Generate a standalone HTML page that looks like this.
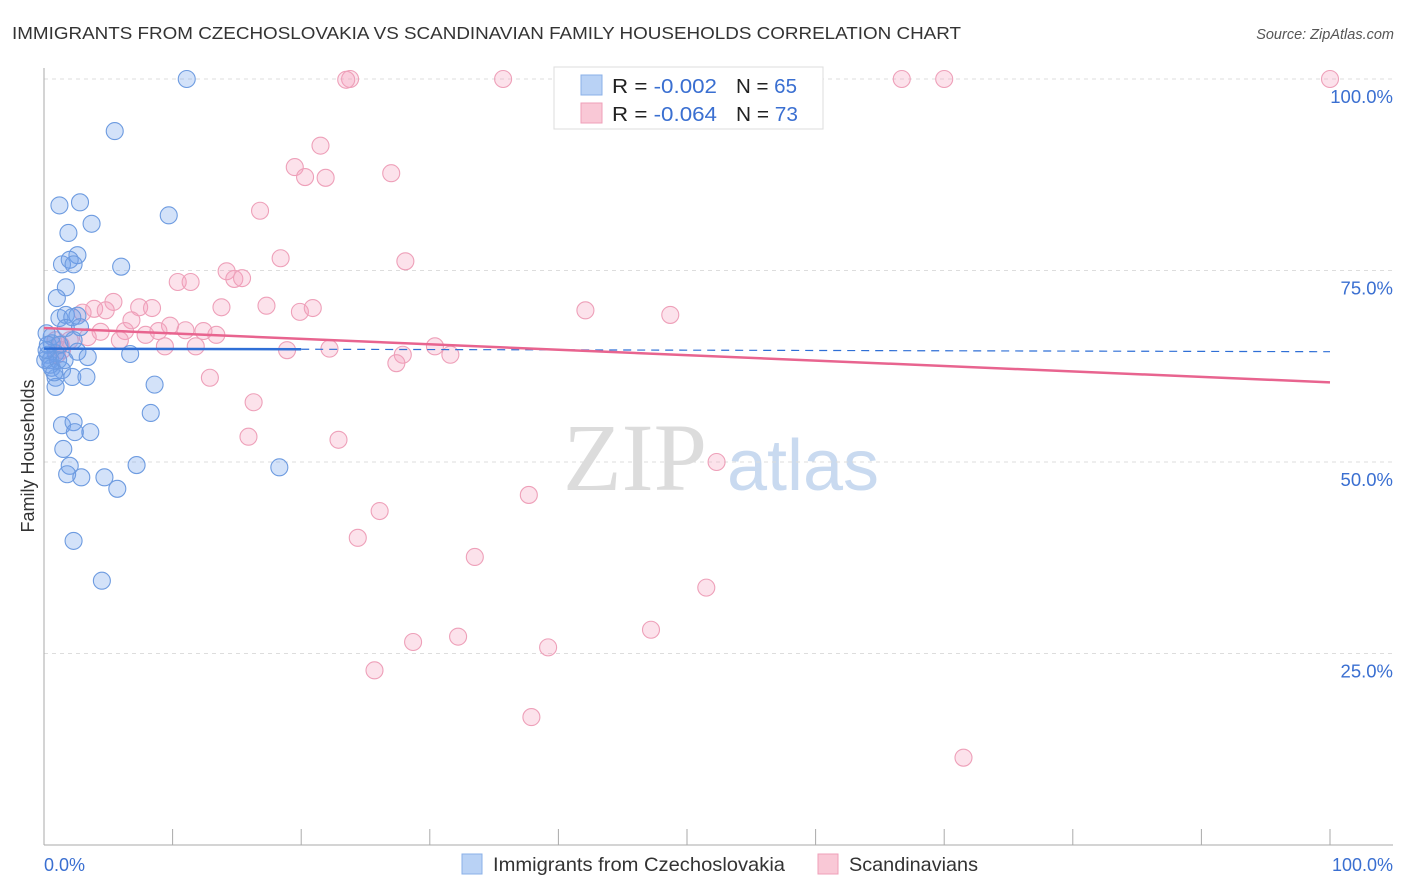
<!DOCTYPE html>
<html><head><meta charset="utf-8"><style>
body{margin:0;background:#fff;font-family:"Liberation Sans",sans-serif;}
#wrap{position:relative;width:1406px;height:892px;overflow:hidden;}
</style></head><body>
<div id="wrap">
<svg id="svg" width="1406" height="892" xmlns="http://www.w3.org/2000/svg">
<text x="12" y="39" font-size="17.5" fill="#333" textLength="949" lengthAdjust="spacingAndGlyphs">IMMIGRANTS FROM CZECHOSLOVAKIA VS SCANDINAVIAN FAMILY HOUSEHOLDS CORRELATION CHART</text>
<text x="1394" y="39" font-size="14.5" fill="#555" font-style="italic" text-anchor="end">Source: ZipAtlas.com</text>
<text x="34" y="456" font-size="18" fill="#333" text-anchor="middle" transform="rotate(-90 34 456)">Family Households</text>
<g><text x="635" y="490" font-size="96" font-family="Liberation Serif,serif" fill="#dcdcdc" text-anchor="middle">ZIP</text><text x="803" y="490" font-size="72" fill="#c9daf0" text-anchor="middle">atlas</text></g>
<g id="grid"></g><g id="marks"></g>
<g>
<rect x="554" y="67" width="269" height="62" fill="#fff" stroke="#ddd"/>
<rect x="581" y="75" width="21" height="20" fill="#b9d2f5" stroke="#8ab0e8"/>
<rect x="581" y="103" width="21" height="20" fill="#f9c8d6" stroke="#ef9fb8"/>
<text x="612" y="93" font-size="20.5" fill="#222" textLength="105" lengthAdjust="spacingAndGlyphs">R = <tspan fill="#3a6fd1">-0.002</tspan></text>
<text x="736" y="93" font-size="20.5" fill="#222" textLength="61" lengthAdjust="spacingAndGlyphs">N = <tspan fill="#3a6fd1">65</tspan></text>
<text x="612" y="121" font-size="20.5" fill="#222" textLength="105" lengthAdjust="spacingAndGlyphs">R = <tspan fill="#3a6fd1">-0.064</tspan></text>
<text x="736" y="121" font-size="20.5" fill="#222" textLength="62" lengthAdjust="spacingAndGlyphs">N = <tspan fill="#3a6fd1">73</tspan></text>
</g>
<g>
<rect x="462" y="854" width="20" height="20" fill="#b9d2f5" stroke="#8ab0e8"/>
<text x="493" y="871" font-size="19.5" fill="#333" textLength="292" lengthAdjust="spacingAndGlyphs">Immigrants from Czechoslovakia</text>
<rect x="818" y="854" width="20" height="20" fill="#f9c8d6" stroke="#ef9fb8"/>
<text x="849" y="871" font-size="19.5" fill="#333" textLength="129" lengthAdjust="spacingAndGlyphs">Scandinavians</text>
</g>
<text x="44" y="871" font-size="18" fill="#3a6fd1">0.0%</text>
<text x="1393" y="871" font-size="18" fill="#3a6fd1" text-anchor="end">100.0%</text>
</svg>
</div>
<script>
const blueX=[11.1,5.5,1.2,2.8,9.7,3.7,1.9,2.6,1.4,2.0,2.3,6.0,1.7,1.0,1.2,1.7,2.6,2.2,0.6,1.7,2.8,2.3,0.6,0.9,2.6,6.7,3.4,0.3,0.5,0.6,1.4,2.2,3.3,0.9,0.9,8.6,8.3,1.4,2.3,3.6,2.4,1.5,2.0,1.8,2.9,7.2,4.7,5.7,18.3,2.3,4.5,0.2,0.3,0.5,1.2,0.1,1.1,0.8,1.6,0.2];
const blueY=[100,93.2,83.5,83.9,82.2,81.1,79.9,77.0,75.8,76.4,75.8,75.5,72.8,71.4,68.8,69.2,69.1,68.9,66.4,67.5,67.6,65.9,65.5,64.2,64.4,64.1,63.7,64.0,63.3,62.3,62.0,61.1,61.1,61.0,59.8,60.1,56.4,54.8,55.2,53.9,53.9,51.7,49.5,48.4,48.0,49.6,48.0,46.5,49.3,39.7,34.5,66.8,65.3,62.7,65.3,63.3,63.3,61.7,63.3,64.6];
const pinkX=[23.8,23.5,35.7,66.7,70.0,100,21.5,19.5,20.3,21.9,27.0,16.8,18.4,28.1,14.2,14.8,15.4,10.4,11.4,5.4,3.9,4.8,7.4,8.4,3.0,13.8,17.3,19.9,20.9,42.1,48.7,6.8,9.8,4.4,6.3,7.9,8.9,11.0,12.4,13.4,3.4,5.9,9.4,11.8,18.9,22.2,27.9,27.4,30.4,31.6,1.3,1.0,12.9,16.3,15.9,22.9,52.3,37.7,26.1,24.4,33.5,51.5,47.2,32.2,28.7,39.2,25.7,37.9,71.5,1.4,2.0,0.9];
const pinkY=[100,99.9,100,100,100,100,91.3,88.5,87.2,87.1,87.7,82.8,76.6,76.2,74.9,73.9,74.0,73.5,73.5,70.9,70.0,69.8,70.2,70.1,69.5,70.2,70.4,69.6,70.1,69.8,69.2,68.5,67.8,67.0,67.1,66.6,67.1,67.2,67.1,66.6,66.3,65.9,65.1,65.1,64.6,64.8,64.0,62.9,65.1,64.0,65.3,64.0,61.0,57.8,53.3,52.9,50.0,45.7,43.6,40.1,37.6,33.6,28.1,27.2,26.5,25.8,22.8,16.7,11.4,64.6,65.9,65.9];
const yTicks=[25,50,75,100];
const xTicks=[0,10,20,30,40,50,60,70,80,90,100];
const blueTrend=[64.8,64.4];
const pinkTrend=[67.5,60.4];
const NS="http://www.w3.org/2000/svg";
const sx=v=>44+v*12.86, sy=v=>845-v*7.66;
function mk(t,a,p){const e=document.createElementNS(NS,t);for(const k in a)e.setAttribute(k,a[k]);p.appendChild(e);return e;}
const grid=document.getElementById('grid'),marks=document.getElementById('marks');
yTicks.forEach(v=>{
  const l=mk('line',{x1:44,x2:1393,y1:sy(v),y2:sy(v),stroke:'#ddd','stroke-dasharray':'4,4'},grid);
  
  
  const t=mk('text',{x:1393,y:sy(v)+24,'font-size':18.5,fill:'#3a6fd1','text-anchor':'end'},grid);
  t.textContent=v.toFixed(1)+'%';
  
  
});
mk('line',{x1:44,x2:44,y1:68,y2:845,stroke:'#aaa'},grid);
mk('line',{x1:44,x2:1393,y1:845,y2:845,stroke:'#aaa'},grid);
xTicks.forEach(v=>{
  const l=mk('line',{x1:sx(v),x2:sx(v),y1:829,y2:845,stroke:'#aaa'},grid);
  
  
});
function dots(X,Y,fill,stroke,name){X.forEach((x,i)=>{
  const c=mk('circle',{cx:sx(x),cy:sy(Y[i]),r:8.5,fill:fill,stroke:stroke,'stroke-width':1.1},marks);
  
  
});}
dots(pinkX,pinkY,'rgba(244,160,188,0.3)','#eea0b9','scandinavian-point');
dots(blueX,blueY,'rgba(110,160,235,0.3)','#6d9be0','czech-point');
const bs=(blueTrend[1]-blueTrend[0])/100;
const b1=mk('line',{x1:sx(0),y1:sy(blueTrend[0]),x2:sx(20),y2:sy(blueTrend[0]+bs*20),stroke:'#2f6fd6','stroke-width':2.5},marks);


const b2=mk('line',{x1:sx(20),y1:sy(blueTrend[0]+bs*20),x2:sx(100),y2:sy(blueTrend[1]),stroke:'#2f6fd6','stroke-width':1.2,'stroke-dasharray':'8,6'},marks);


const p1=mk('line',{x1:sx(0),y1:sy(pinkTrend[0]),x2:sx(100),y2:sy(pinkTrend[1]),stroke:'#e8648f','stroke-width':2.5},marks);


</script>
</body></html>
